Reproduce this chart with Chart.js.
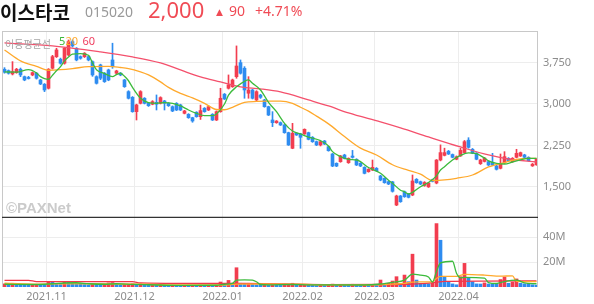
<!DOCTYPE html>
<html>
<head>
<meta charset="utf-8">
<script src="https://cdn.jsdelivr.net/npm/chart.js@4.4.1/dist/chart.umd.min.js"></script>
<style>
  body { margin: 0; width: 594px; height: 304px; overflow: hidden; position: relative; background: #fff; font-family: "Noto Sans", "Noto Sans CJK KR", sans-serif; }
  canvas { position: absolute; left: 0; }
  #price { top: 0; }
  #volume { top: 218px; }
  .t { position: absolute; line-height: 1; white-space: nowrap; pointer-events: none; }
  #name { left: 0; top: -2px; font: 700 19px "Noto Sans CJK KR", sans-serif; color: #111; }
  #code { left: 85px; top: 5px; font-size: 14px; color: #999; }
  #last { left: 148px; top: -2px; font-size: 22px; color: #f04b55; }
  #arrow { left: 216px; top: 7px; font: 9px "DejaVu Sans", sans-serif; color: #f04b55; }
  #chg { left: 229px; top: 4px; font-size: 14px; color: #f04b55; }
  #pct { left: 255px; top: 4px; font-size: 14px; color: #f04b55; }
  #malabel { left: 5px; top: 36px; font: 10px "Noto Sans CJK KR", sans-serif; color: #a6a6a6; }
  .ma { top: 35px; font-size: 11px; }
  #wm { left: 6px; top: 199px; font: 700 15px "Liberation Sans", sans-serif; color: #cbcbcb; }
</style>
</head>
<body>
<canvas id="price" width="594" height="218"></canvas>
<canvas id="volume" width="594" height="86"></canvas>
<div class="t" id="name">이스타코</div>
<div class="t" id="code">015020</div>
<div class="t" id="last">2,000</div>
<div class="t" id="arrow">▲</div>
<div class="t" id="chg">90</div>
<div class="t" id="pct">+4.71%</div>
<div class="t" id="malabel">이동평균선</div>
<div class="t ma" style="left:59px;color:#3cb83c">5</div>
<div class="t ma" style="left:65.5px;color:#ffa92c">20</div>
<div class="t ma" style="left:82.5px;color:#ef3d5e">60</div>
<div class="t" id="wm">©PAXNet</div>
<script>
// daily candles, oldest first (Oct 2021 .. Apr 2022)
const openP = [3628, 3603, 3543, 3567, 3628, 3494, 3480, 3525, 3556, 3434, 3356,
  3284, 3646, 3856, 3809, 3737, 3887, 4128, 4008, 3856, 3856, 3856, 3766, 3494, 3706, 3556, 3615, 3796, 3556, 3556, 3434, 3223, 3120,
  2861, 3012, 3103, 3012, 2995, 3030, 3012, 3054, 3012, 2951, 3012, 2982, 2831, 2813, 2752, 2850, 2770, 2922, 2891, 2813, 2710, 2861,
  3176, 3284, 3313, 3494, 3748, 3646, 3194, 3253, 3072, 3160, 3072, 2951, 2710, 2662, 2662, 2620, 2481, 2198, 2469, 2457,
  2457, 2481, 2397, 2318, 2258, 2330, 2227, 2095, 1926, 1956, 2076, 1938, 2058, 1998, 1926, 1853, 1775, 1805,
  1835, 1697, 1655, 1594, 1590, 1172, 1335, 1413, 1371, 1353, 1637, 1594, 1525, 1500, 1630, 1570, 1986, 2070, 2145, 2085, 2000,
  2060, 2120, 2345, 2180, 2110, 1920, 1960, 1956, 1938, 1878, 1836, 1938, 2016, 1956, 2035, 2059, 2077, 2035, 1880, 1900];
const closeP = [3574, 3556, 3585, 3628, 3525, 3434, 3460, 3567, 3465, 3362, 3253,
  3628, 3856, 3977, 3737, 4008, 4128, 4050, 3796, 3827, 3918, 3796, 3525, 3374, 3465, 3404, 3434, 3675, 3597, 3525, 3313, 3103, 2861,
  2982, 3223, 3012, 2969, 3042, 2995, 3115, 3012, 2969, 2873, 2891, 2891, 2873, 2752, 2692, 2770, 2880, 2861, 2951, 2710, 2861, 3103,
  3090, 3344, 3434, 3687, 3556, 3253, 3253, 3103, 3223, 3120, 2951, 2800, 2662, 2690, 2620, 2481, 2258, 2469, 2439, 2397,
  2541, 2360, 2318, 2258, 2318, 2276, 2155, 1877, 1877, 2059, 2016, 2016, 2034, 1896, 1878, 1745, 1817, 1853,
  1793, 1624, 1576, 1552, 1420, 1335, 1232, 1323, 1311, 1606, 1576, 1552, 1580, 1570, 1600, 1985, 2120, 2120, 2095, 2035, 2045,
  2160, 2318, 2215, 2110, 2000, 1986, 2020, 1896, 1896, 1818, 1914, 2047, 1974, 2016, 2107, 2119, 2035, 1974, 1910, 2000];
const highP = [3657, 3615, 3766, 3645, 3650, 3505, 3500, 3580, 3570, 3445, 3370,
  3640, 3880, 4008, 3830, 4020, 4158, 4160, 4020, 3870, 3930, 3870, 3780, 3510, 3720, 3570, 3630, 4099, 3610, 3570, 3445, 3240, 3135,
  2995, 3240, 3115, 3024, 3060, 3163, 3130, 3065, 3024, 2965, 3024, 2995, 2885, 2825, 2760, 2860, 2980, 2935, 2965, 2825, 2875, 3284,
  3190, 3525, 3450, 4050, 3796, 3675, 3494, 3265, 3240, 3175, 3085, 2960, 2861, 2700, 2675, 2630, 2490, 2650, 2480, 2470,
  2550, 2490, 2410, 2330, 2330, 2340, 2235, 2105, 1935, 2070, 2090, 2025, 2160, 2010, 1940, 1865, 1830, 1986,
  1850, 1710, 1665, 1605, 1600, 1350, 1345, 1425, 1380, 1715, 1650, 1605, 1595, 1580, 1640, 1995, 2260, 2200, 2160, 2095, 2060,
  2200, 2340, 2390, 2195, 2120, 2000, 2035, 1970, 2107, 1890, 2095, 2137, 2030, 2030, 2180, 2130, 2090, 2045, 1925, 2010];
const lowP = [3556, 3540, 3525, 3555, 3494, 3420, 3450, 3510, 3450, 3350, 3223,
  3270, 3630, 3840, 3720, 3720, 3870, 4030, 3780, 3810, 3840, 3780, 3500, 3360, 3440, 3390, 3420, 3645, 3540, 3510, 3300, 3090, 2850,
  2710, 3000, 3000, 2955, 2985, 2891, 3000, 2891, 2955, 2860, 2880, 2880, 2820, 2740, 2669, 2760, 2720, 2850, 2880, 2700, 2700, 2850,
  3080, 3270, 3300, 3465, 3540, 3103, 3103, 3090, 3060, 3100, 2940, 2790, 2590, 2650, 2610, 2470, 2250, 2190, 2430, 2198,
  2450, 2350, 2305, 2245, 2240, 2265, 2145, 1865, 1865, 1945, 2005, 1925, 2020, 1885, 1865, 1735, 1765, 1795,
  1780, 1610, 1565, 1540, 1405, 1160, 1220, 1310, 1300, 1340, 1565, 1540, 1510, 1490, 1590, 1555, 1970, 2060, 2085, 2025, 1990,
  2050, 2110, 2200, 2100, 1990, 1905, 1950, 1885, 1885, 1805, 1825, 1925, 1960, 1945, 2025, 2050, 2025, 1965, 1870, 1890];
// volume in millions of shares
const volume = [2.5, 2.2, 3, 2.6, 2.2, 2, 1.6, 1.9, 2.1, 1.7, 1.5,
  4, 3.8, 2.5, 2, 4.5, 4.3, 3.2, 2.8, 2.4, 2, 1.6, 2.4, 2, 1.8, 2, 3.3, 3.6, 2.1, 1.6, 2, 2.3, 2.6,
  2.3, 2.5, 1.8, 1.5, 1.6, 1.4, 1.6, 1.4, 1.3, 1.4, 1.2, 1.1, 1.2, 1.1, 1.2, 1, 1.3, 1.1, 1.2, 1.1, 1.4, 4,
  1.5, 5.3, 3, 15.5, 3, 2.5, 3, 2, 1.8, 1.6, 1.7, 1.5, 1.8, 1.4, 1.3, 1.5, 1.8, 3, 1.6, 1.7,
  1.8, 1.5, 1.4, 1.2, 1.3, 1.2, 1.4, 2.3, 1.5, 1.6, 1.4, 1.3, 2.2, 1.5, 1.4, 1.6, 1.5, 1.7,
  1.6, 5.6, 2.2, 3, 4.8, 8.3, 3, 9.6, 4.3, 26.4, 5.6, 3, 2.8, 2.6, 3, 51, 37.6, 8.3, 4.3, 2.5, 1.8,
  8.3, 19, 7, 4.3, 2.5, 2.4, 3.3, 2.4, 2.3, 2.2, 6, 8, 3, 4, 6.5, 3, 2.5, 2.2, 1.8, 1.5];

// moving averages: [candle index, value]
const ma5 = [[0, 3580], [3, 3575], [6, 3620], [8, 3560], [9, 3494], [10, 3460], [11, 3447], [12, 3520], [13, 3600], [14, 3675],
  [15, 3780], [16, 3850], [17, 3900], [19, 3910], [21, 3880], [22, 3740], [23, 3620], [25, 3550], [27, 3494], [28, 3530],
  [29, 3556], [30, 3500], [31, 3420], [32, 3300], [34, 3103], [36, 3024], [38, 3012], [40, 3024], [42, 3012], [44, 2964],
  [46, 2891], [48, 2831], [50, 2790], [52, 2790], [53, 2820], [55, 3000], [56, 3160], [58, 3310], [60, 3410], [61, 3434],
  [62, 3374], [64, 3253], [66, 3030], [68, 2861], [70, 2650], [72, 2510], [74, 2457], [76, 2400], [79, 2336], [81, 2240],
  [82, 2137], [84, 2046], [86, 1998], [88, 1986], [89, 1956], [91, 1850], [92, 1818], [94, 1746], [96, 1620], [97, 1565],
  [99, 1440], [100, 1410], [101, 1371], [102, 1400], [104, 1503], [106, 1580], [108, 1700], [109, 1805], [110, 1865],
  [112, 1986], [114, 2070], [116, 2115], [118, 2100], [120, 2020], [121, 1970], [123, 1925], [125, 1914], [127, 1950],
  [129, 1990], [131, 2017], [133, 2017]];
const ma20 = [[0, 3977], [4, 3780], [8, 3680], [11, 3610], [14, 3620], [17, 3640], [21, 3675], [26, 3680], [29, 3660],
  [31, 3640], [34, 3580], [36, 3525], [39, 3400], [41, 3300], [44, 3190], [47, 3110], [50, 3012], [53, 2900], [55, 2895],
  [57, 2940], [60, 3030], [63, 3045], [66, 3050], [69, 3050], [72, 3010], [74, 2940], [76, 2870], [78, 2780], [81, 2640],
  [85, 2410], [89, 2200], [93, 2077], [97, 1900], [101, 1800], [104, 1730], [107, 1615], [110, 1625], [113, 1655],
  [117, 1715], [121, 1860], [125, 1940], [128, 1998], [131, 2017], [133, 2017]];
const ma60 = [[0, 4104], [12, 4050], [24, 3941], [32, 3851], [39, 3742], [44, 3615], [49, 3489], [54, 3398], [59, 3308],
  [64, 3272], [69, 3217], [76, 3072], [81, 2964], [86, 2837], [94, 2674], [99, 2566], [106, 2403], [114, 2222],
  [121, 2077], [126, 2004], [133, 1950]];
const vma5 = [[0, 2.2], [8, 2], [12, 2.6], [15, 3.2], [18, 3.4], [21, 2.6], [25, 2.2], [28, 2.6], [32, 2.1], [36, 1.8],
  [44, 1.3], [53, 1.4], [55, 2.2], [57, 3], [58, 5.6], [60, 5.8], [62, 5.6], [63, 4.2], [64, 2], [66, 1.7], [72, 2],
  [76, 1.7], [90, 1.6], [94, 2.4], [97, 3.8], [100, 5.6], [102, 10.3], [104, 9.5], [106, 8], [107, 4], [108, 12.5],
  [109, 19.4], [112, 20.7], [113, 11], [114, 7.4], [115, 7.7], [120, 7.2], [121, 3.5], [123, 2.8], [125, 4.4],
  [128, 5.5], [130, 3.4], [133, 2.6]];
const vma20 = [[0, 3], [10, 2.3], [20, 2.6], [35, 2.2], [45, 1.6], [55, 1.6], [58, 2.3], [65, 2.4], [75, 2.2], [80, 1.7],
  [93, 1.7], [97, 2.3], [100, 2.9], [102, 4], [107, 4.4], [108, 6.8], [109, 8.6], [113, 8.6], [115, 10.2], [120, 9.6],
  [124, 8.7], [127, 9], [128, 4.5], [133, 4.3]];
const vma60 = [[0, 5.3], [6, 5.3], [8, 4.4], [32, 4.3], [34, 3.3], [55, 2.8], [60, 2.9], [70, 2.4], [80, 1.9], [95, 2],
  [102, 2.4], [106, 3.1], [108, 3.9], [110, 4.6], [120, 4.8], [133, 5]];

const monthStart = [11, 33, 55, 75, 93, 114];
const monthLabels = ['2021.11', '2021.12', '2022.01', '2022.02', '2022.03', '2022.04'];
const priceTicks = [1500, 2250, 3000, 3750];
const volumeTicks = [20, 40];

const RED = '#f23d4f';
const BLUE = '#2e8cf0';

Chart.defaults.font.family = '"Noto Sans", sans-serif';
Chart.defaults.font.size = 11;
Chart.defaults.color = '#8c8c8c';

// box around each plot area
const frame = {
  id: 'frame',
  afterDraw(chart, args, opts) {
    const { ctx, chartArea: a } = chart;
    ctx.save();
    ctx.strokeStyle = '#c8c8c8';
    ctx.lineWidth = 1;
    ctx.beginPath();
    if (opts.top) { ctx.moveTo(a.left, a.top + 0.5); ctx.lineTo(a.right, a.top + 0.5); }
    ctx.moveTo(a.left + 0.5, a.top); ctx.lineTo(a.left + 0.5, a.bottom);
    ctx.moveTo(a.right - 0.5, a.top); ctx.lineTo(a.right - 0.5, a.bottom);
    ctx.stroke();
    if (opts.bottom) {
      ctx.strokeStyle = '#333';
      ctx.lineWidth = 1.5;
      ctx.beginPath();
      ctx.moveTo(a.left, a.bottom + 0.5); ctx.lineTo(a.right, a.bottom + 0.5);
      ctx.stroke();
    }
    ctx.restore();
  }
};

function xAxis(showTicks) {
  return {
    type: 'linear', min: -0.625, max: 133.375, offset: false,
    afterBuildTicks: s => { s.ticks = monthStart.map(m => ({ value: m - 0.5 })); },
    afterFit: s => { s.height = showTicks ? 17 : 0; s.paddingLeft = 0; s.paddingRight = 0; },
    grid: { color: '#ededed', drawTicks: false, offset: false },
    border: { display: false },
    ticks: { display: showTicks, padding: 3, maxRotation: 0, autoSkip: false, callback: (v, i) => monthLabels[i] }
  };
}

function yAxis(min, max, ticks, fmt) {
  return {
    position: 'right', min, max,
    afterBuildTicks: s => { s.ticks = ticks.map(v => ({ value: v })); },
    afterFit: s => { s.width = 56; s.paddingTop = 0; s.paddingBottom = 0; },
    grid: { color: '#ededed', drawTicks: false },
    border: { display: false },
    ticks: { padding: 5, callback: fmt }
  };
}

function maLine(points, color) {
  return {
    type: 'line', order: 0,
    data: points.map(([x, y]) => ({ x, y })),
    borderColor: color, borderWidth: 1.3, pointRadius: 0,
    cubicInterpolationMode: 'monotone'
  };
}

const candleColor = ctx => closeP[ctx.dataIndex] >= openP[ctx.dataIndex] ? RED : BLUE;

new Chart(document.getElementById('price'), {
  type: 'bar',
  data: {
    datasets: [
      maLine(ma5, '#3cbb3c'),
      maLine(ma20, '#ffa92c'),
      maLine(ma60, '#f4506c'),
      {
        order: 1, grouped: false, barThickness: 3,
        data: openP.map((o, i) => ({ x: i, y: [o, closeP[i]] })),
        backgroundColor: candleColor
      },
      {
        order: 2, grouped: false, barThickness: 1,
        data: lowP.map((l, i) => ({ x: i, y: [l, highP[i]] })),
        backgroundColor: candleColor
      }
    ]
  },
  options: {
    responsive: false, animation: false, events: [],
    layout: { padding: { top: 31, left: 2, right: 0, bottom: 1 } },
    plugins: { legend: { display: false }, tooltip: { enabled: false }, frame: { top: true, bottom: true } },
    scales: {
      x: xAxis(false),
      y: yAxis(955, 4320, priceTicks, v => v.toLocaleString('en-US'))
    }
  },
  plugins: [frame]
});

new Chart(document.getElementById('volume'), {
  type: 'bar',
  data: {
    datasets: [
      maLine(vma5, '#3cbb3c'),
      maLine(vma20, '#ffa92c'),
      maLine(vma60, '#f2364a'),
      {
        order: 1, grouped: false, barThickness: 3,
        data: volume.map((v, i) => ({ x: i, y: v })),
        backgroundColor: ctx => (ctx.dataIndex === 0 || volume[ctx.dataIndex] >= volume[ctx.dataIndex - 1]) ? RED : BLUE
      }
    ]
  },
  options: {
    responsive: false, animation: false, events: [],
    layout: { padding: { top: 0, left: 2, right: 0, bottom: 0 } },
    plugins: { legend: { display: false }, tooltip: { enabled: false }, frame: { top: false, bottom: false } },
    scales: {
      x: xAxis(true),
      y: yAxis(0, 55.5, volumeTicks, v => v + 'M')
    }
  },
  plugins: [frame]
});
</script>
</body>
</html>
